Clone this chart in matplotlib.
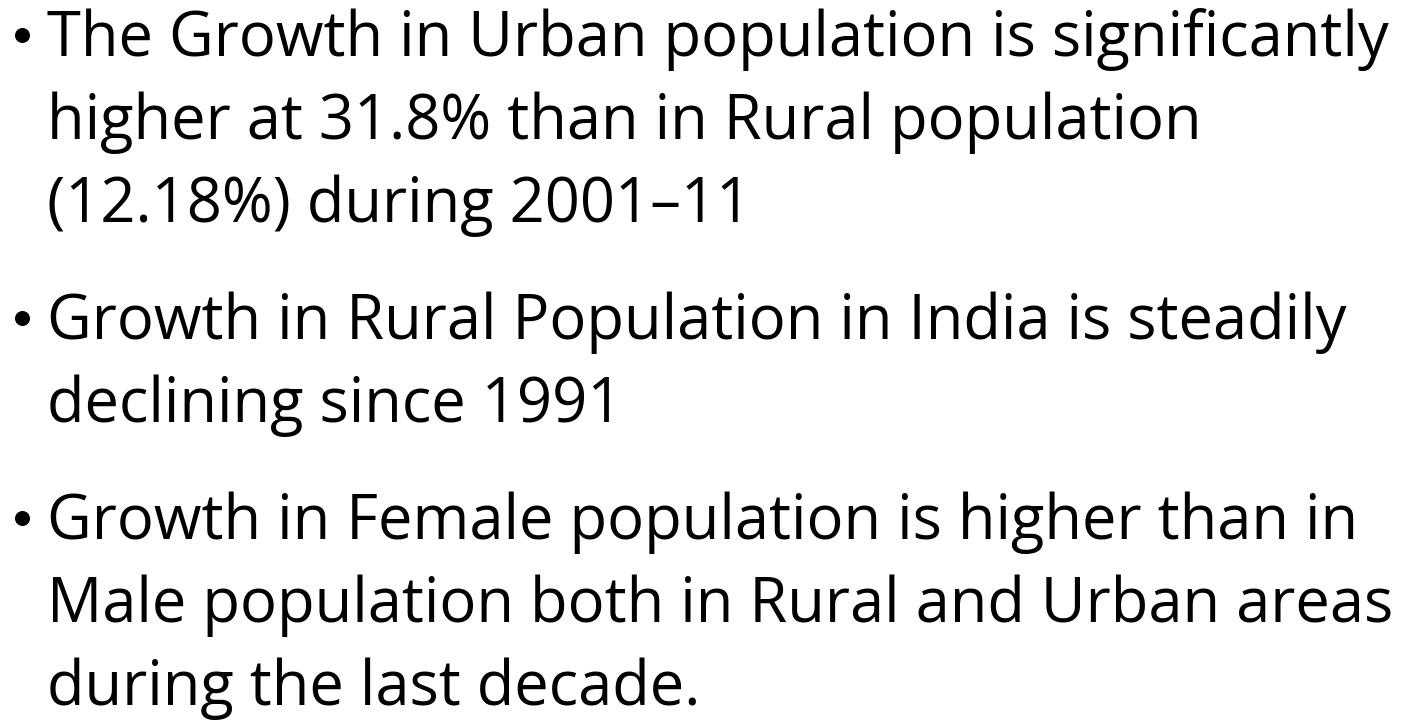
import matplotlib
matplotlib.use("Agg")
import matplotlib.pyplot as plt
from matplotlib.lines import Line2D

W, H = 1408, 721

# Slide content: each bullet is a list of wrapped lines
bullet_1 = ["The Growth in Urban population is significantly",
            "higher at 31.8% than in Rural population",
            "(12.18%) during 2001\u201311"]
bullet_2 = ["Growth in Rural Population in India is steadily",
            "declining since 1991"]
bullet_3 = ["Growth in Female population is higher than in",
            "Male population both in Rural and Urban areas",
            "during the last decade."]
bullets = [bullet_1, bullet_2, bullet_3]

FONT = "Open Sans"
SIZE = 44.3
LINE_H = 83      # px between baselines within a bullet
PARA_GAP = 117   # px between last baseline of a bullet and first of next
TOP_BASE = 56    # px, first baseline from top
TEXT_X = 47
BULLET_X = 22
BULLET_RISE = 21  # px above baseline
BULLET_D = 15     # px diameter

fig = plt.figure(figsize=(W / 100, H / 100), dpi=100)
fig.patch.set_facecolor("white")

def fx(px):
    return px / W

def fy(py):
    return 1 - py / H

y = TOP_BASE
for b in bullets:
    fig.add_artist(Line2D([fx(BULLET_X)], [fy(y - BULLET_RISE)], marker="o",
                          markersize=BULLET_D * 0.72, color="black",
                          markeredgewidth=0, linestyle="none",
                          transform=fig.transFigure))
    for i, line in enumerate(b):
        fig.text(fx(TEXT_X), fy(y), line, family=FONT, fontsize=SIZE,
                 ha="left", va="baseline", color="black")
        if i < len(b) - 1:
            y += LINE_H
    y += PARA_GAP

fig.savefig("out.png", dpi=100, facecolor="white")
